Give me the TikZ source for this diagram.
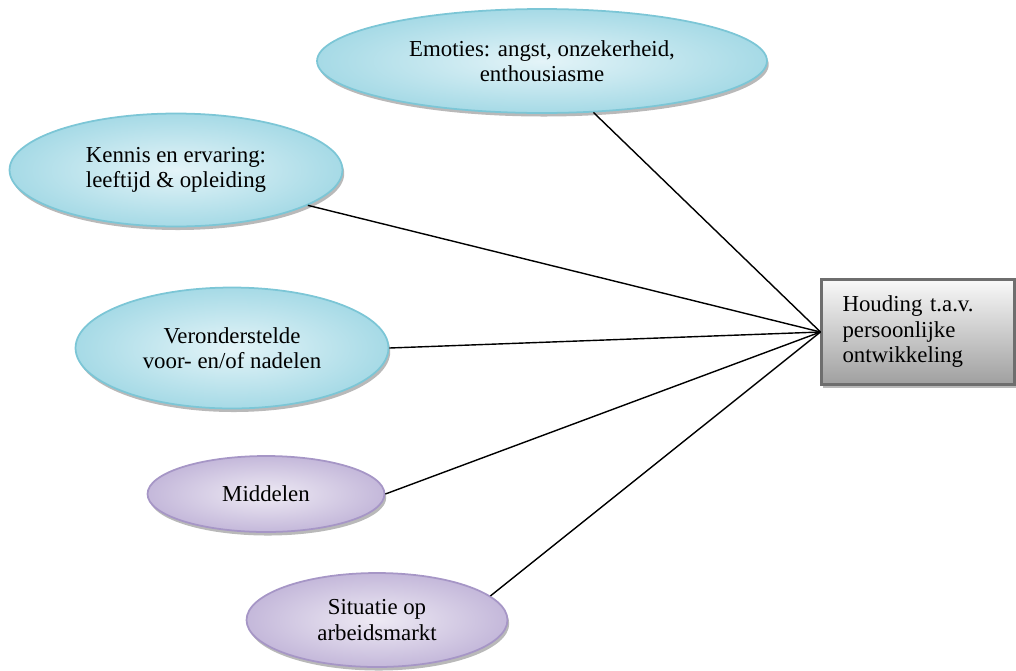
\documentclass[tikz,border=0pt]{standalone}
\usepackage{fontspec}
\setmainfont{Liberation Serif}
\usetikzlibrary{shapes.geometric,shadows}
\definecolor{blueedge}{HTML}{7CC6D6}
\definecolor{bluein}{HTML}{E4F4F8}
\definecolor{blueout}{HTML}{A6DAE6}
\definecolor{purpedge}{HTML}{A696C6}
\definecolor{purpin}{HTML}{EEEAF4}
\definecolor{purpout}{HTML}{C4B8DA}
\definecolor{greyedge}{HTML}{6E6E6E}
\begin{document}
\begin{tikzpicture}[x=0.02cm,y=-0.02cm,
  every node/.style={font=\fontsize{13}{14.5}\selectfont,inner sep=2pt},
  factor/.style={ellipse,align=center,line width=1pt,
    general shadow={fill=gray!55,shadow xshift=1pt,shadow yshift=-2pt}},
  bluefactor/.style={factor,draw=blueedge,inner color=bluein,outer color=blueout},
  purpfactor/.style={factor,draw=purpedge,inner color=purpin,outer color=purpout},
  attitude/.style={rectangle,draw=greyedge,line width=1.2pt,align=left,
    top color=gray!5,bottom color=gray!75,inner xsep=0.42cm,
    text width=3.02cm,minimum height=2.1cm,
    general shadow={fill=gray!55,shadow xshift=1pt,shadow yshift=-2pt}}]
  \useasboundingbox (0,0) rectangle (1016,670);
  \node[bluefactor,minimum width=9cm,minimum height=2.08cm] (emo) at (542,61)
    {Emoties: angst, onzekerheid,\\enthousiasme};
  \node[bluefactor,minimum width=6.66cm,minimum height=2.26cm] (ken) at (176,170)
    {Kennis en ervaring:\\leeftijd \& opleiding};
  \node[bluefactor,minimum width=6.26cm,minimum height=2.42cm] (ver) at (232,348)
    {Veronderstelde\\voor- en/of nadelen};
  \node[purpfactor,minimum width=4.74cm,minimum height=1.52cm] (mid) at (266,494)
    {Middelen};
  \node[purpfactor,minimum width=5.22cm,minimum height=1.88cm] (sit) at (377,620)
    {Situatie op\\arbeidsmarkt};
  \node[attitude] (hou) at (918,332)
    {Houding t.a.v.\\persoonlijke\\ontwikkeling};
  \coordinate (hub) at (hou.west);
  \foreach \n/\a in {emo/-45,ken/-15,ver/0,mid/0,sit/12}
    \draw[line width=.8pt] (hub) -- (\n.\a);
\end{tikzpicture}
\end{document}
